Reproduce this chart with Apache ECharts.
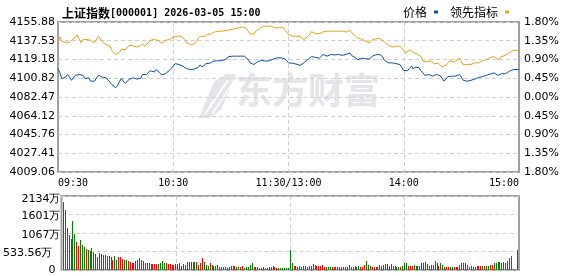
<!DOCTYPE html>
<html><head><meta charset="utf-8">
<script src="https://cdn.jsdelivr.net/npm/echarts@6/dist/echarts.min.js"></script>
<style>html,body{margin:0;padding:0;background:#fff}#c{width:578px;height:276px}</style>
</head><body><div id="c"></div>
<script>
// ---- data ----
const prevClose = 4082.47;
const titleCode = '[000001] 2026-03-05 15:00';
const titleName = '上证指数';
const priceTicks = ['4009.06','4027.41','4045.76','4064.12','4082.47','4100.82','4119.18','4137.53','4155.88'];
const pctTicks = ['1.80%','1.35%','0.90%','0.45%','0.00%','0.45%','0.90%','1.35%','1.80%'];
const volTicks = ['0','533.56万','1067万','1601万','2134万'];
const timeTicks = {0:'09:30', 60:'10:30', 120:'11:30/13:00', 180:'14:00', 240:'15:00'};
const seriesNames = ['价格','领先指标'];

// change vs previous close (%), one value per minute 09:30..11:30, 13:01..15:00
const priceChgPct = [
 0.68,0.58,0.44,0.40,0.48,0.54,0.48,0.40,0.44,0.52,0.54,0.54,0.54,0.52,0.44,0.40,0.46,0.38,0.38,0.38,
 0.42,0.52,0.54,0.48,0.50,0.46,0.42,0.36,0.30,0.28,0.22,0.27,0.37,0.45,0.38,0.33,0.37,0.42,0.44,0.46,
 0.43,0.43,0.42,0.45,0.54,0.54,0.54,0.58,0.63,0.62,0.60,0.66,0.63,0.58,0.53,0.54,0.56,0.60,0.64,0.68,
 0.74,0.80,0.78,0.78,0.78,0.74,0.71,0.68,0.66,0.66,0.66,0.67,0.67,0.71,0.77,0.72,0.69,0.80,0.81,0.81,
 0.84,0.86,0.88,0.87,0.87,0.87,0.88,0.90,0.93,0.97,0.98,0.98,0.98,0.98,0.98,0.98,0.99,0.98,0.98,0.90,
 0.82,0.78,0.78,0.81,0.85,0.86,0.88,0.88,0.86,0.82,0.87,0.90,0.91,0.94,0.94,0.94,0.94,0.91,0.92,0.89,
 0.82,
 0.81,0.81,0.80,0.79,0.78,0.76,0.77,0.82,0.86,0.90,0.94,0.97,0.99,0.95,0.95,0.93,0.96,1.02,0.99,0.98,
 1.01,1.02,1.02,1.01,1.02,1.02,1.02,1.00,1.02,1.02,1.04,1.06,0.99,0.97,0.94,0.89,0.88,0.93,0.96,0.92,
 0.90,0.91,0.94,0.99,1.02,1.02,1.02,1.01,0.96,0.88,0.84,0.82,0.82,0.82,0.81,0.80,0.80,0.78,0.75,0.64,
 0.60,0.63,0.69,0.74,0.67,0.72,0.68,0.70,0.63,0.58,0.52,0.50,0.54,0.56,0.50,0.48,0.54,0.50,0.51,0.48,
 0.38,0.42,0.49,0.50,0.50,0.50,0.50,0.52,0.54,0.48,0.40,0.37,0.38,0.40,0.40,0.41,0.43,0.45,0.47,0.47,
 0.49,0.52,0.52,0.53,0.55,0.58,0.58,0.56,0.52,0.54,0.56,0.56,0.56,0.58,0.62,0.64,0.66,0.66,0.66,0.66
];
const leadChgPct = [
 1.30,1.44,1.34,1.31,1.31,1.31,1.32,1.36,1.40,1.44,1.49,1.39,1.30,1.38,1.42,1.38,1.39,1.36,1.34,1.30,
 1.32,1.46,1.40,1.33,1.30,1.26,1.26,1.22,1.12,1.09,1.02,1.01,1.07,1.15,1.17,1.13,1.17,1.24,1.22,1.23,
 1.19,1.20,1.22,1.23,1.28,1.22,1.25,1.30,1.36,1.40,1.38,1.40,1.36,1.34,1.29,1.31,1.36,1.38,1.38,1.39,
 1.44,1.44,1.46,1.46,1.46,1.43,1.38,1.30,1.26,1.26,1.25,1.27,1.33,1.41,1.46,1.43,1.45,1.49,1.50,1.50,
 1.52,1.54,1.57,1.58,1.58,1.58,1.58,1.58,1.60,1.62,1.62,1.62,1.64,1.66,1.66,1.68,1.68,1.66,1.65,1.58,
 1.52,1.48,1.51,1.58,1.62,1.64,1.68,1.70,1.72,1.70,1.67,1.70,1.67,1.66,1.66,1.66,1.67,1.67,1.62,1.60,
 1.50,
 1.48,1.46,1.47,1.46,1.46,1.46,1.42,1.38,1.42,1.45,1.50,1.57,1.58,1.52,1.52,1.52,1.52,1.56,1.58,1.58,
 1.58,1.58,1.58,1.58,1.58,1.58,1.58,1.58,1.58,1.56,1.58,1.60,1.54,1.50,1.46,1.41,1.38,1.39,1.35,1.34,
 1.30,1.30,1.34,1.38,1.40,1.40,1.40,1.40,1.37,1.32,1.28,1.24,1.21,1.20,1.21,1.22,1.22,1.22,1.20,1.12,
 1.06,1.09,1.13,1.13,1.07,1.05,1.03,1.04,0.97,0.86,0.82,0.85,0.86,0.86,0.83,0.80,0.81,0.81,0.78,0.72,
 0.73,0.77,0.82,0.87,0.86,0.84,0.86,0.89,0.94,0.90,0.77,0.75,0.78,0.78,0.78,0.80,0.82,0.82,0.82,0.83,
 0.87,0.90,0.90,0.90,0.94,0.98,0.97,0.93,0.90,0.94,0.97,0.98,1.00,1.04,1.07,1.10,1.12,1.12,1.12,1.12
];
// volume per minute, unit 万
const volume = [
 null,
 1961,1731,1211,1010,894,1413,1038,798,692,865,721,663,606,577,558,635,510,462,385,481,
 462,433,433,413,404,385,288,404,288,365,365,308,298,279,250,221,212,192,269,298,
 346,288,250,192,192,192,173,173,173,173,173,192,250,202,192,173,173,135,154,173,
 173,192,125,173,144,221,221,221,221,221,231,144,202,346,221,144,125,192,154,125,
 125,144,96,96,96,96,58,96,125,125,125,77,77,77,125,58,77,77,144,202,
 77,77,77,58,48,77,58,58,77,96,125,77,58,58,58,58,58,58,58,577,
 202,125,125,96,125,96,125,125,96,125,125,173,154,125,125,125,154,96,96,96,
 96,77,96,96,96,96,96,96,96,96,154,96,96,125,96,125,96,96,154,269,
 154,125,96,96,96,96,154,125,154,173,173,125,173,125,125,96,96,96,125,202,
 202,125,125,125,154,125,125,125,202,202,221,173,125,154,154,260,202,125,202,154,
 96,96,96,96,96,96,96,96,154,202,202,202,144,96,125,96,96,125,125,125,
 125,125,125,125,144,144,202,202,240,221,202,240,192,269,337,413,19,0,0,577
];
// 1 = red (up), 0 = green (down)
const volUp = [
 0,
 1,0,0,1,1,0,0,1,1,0,0,0,1,0,0,1,0,1,0,1,
 1,0,0,1,1,0,1,0,0,1,1,1,0,0,1,1,1,1,1,1,
 0,1,1,0,0,1,1,1,1,1,0,0,0,0,1,1,1,1,1,1,
 1,0,0,1,1,0,0,0,0,0,1,0,1,1,0,0,0,1,0,1,
 1,1,0,1,1,1,1,1,1,1,1,0,0,1,1,0,0,0,0,0,
 1,1,0,1,1,1,1,0,0,1,1,1,1,0,0,0,0,0,0,0,
 0,1,1,0,0,1,0,0,1,1,1,1,0,1,1,1,1,1,0,0,
 0,1,1,0,0,0,0,0,0,0,1,0,0,0,0,0,1,1,1,0,
 0,1,1,0,1,0,1,0,0,0,0,0,0,1,1,0,0,1,0,0,
 0,1,1,1,0,0,0,0,0,0,0,1,1,1,0,0,1,1,0,0,
 1,1,1,0,0,1,1,1,1,0,0,0,1,0,1,0,0,1,1,1,
 0,1,0,0,1,1,0,0,0,1,0,0,1,1,1,1,1,0,0,0
];

// minute categories
const times = [];
function pad(n){return (n<10?'0':'')+n;}
for (let m = 9*60+30; m <= 11*60+30; m++) times.push(pad(Math.floor(m/60))+':'+pad(m%60));
for (let m = 13*60+1; m <= 15*60; m++) times.push(pad(Math.floor(m/60))+':'+pad(m%60));

// ---- chart ----
const RED = '#ff0000', GREEN = '#008000', BLUE = '#0b52a5', ORANGE = '#e3a21a';
const GRIDC = '#cfcfcf', FRAME = '#a0a0a0', WM = '#e4e4e9';
const numFont = 'DejaVu Sans';
const monoFont = 'DejaVu Sans Mono';
const cjkFont = 'Noto Sans CJK SC';
const tickIdx = v => Math.round((v + 1.8) / 0.45);
const tickColor = v => { const k = tickIdx(v); return k > 4 ? RED : (k < 4 ? GREEN : '#000'); };
const vSplit = i => i === 60 || i === 120 || i === 180;

const chart = echarts.init(document.getElementById('c'), null, {renderer: 'canvas'});
chart.setOption({
  animation: false,
  backgroundColor: '#fff',
  title: {
    left: 57, top: 2,
    text: '{a|' + titleName + '}{b|' + titleCode + '}',
    textStyle: {
      rich: {
        a: {fontFamily: cjkFont, fontSize: 12, color: '#000'},
        b: {fontFamily: monoFont, fontSize: 10, color: '#000', padding: [1,0,0,0]}
      }
    }
  },
  legend: {
    right: 64, top: 1, align: 'right', itemWidth: 4, itemHeight: 3, itemGap: 12,
    icon: 'rect',
    textStyle: {fontFamily: cjkFont, fontSize: 12, color: '#000', padding: [0, 2, 0, 0]},
    data: seriesNames
  },
  graphic: [
    {
      type: 'group', z: -1, silent: true,
      children: [
        {type: 'polygon', shape: {points: [[199,118],[214,82],[226,74],[236,74],[221,110],[209,118]]}, style: {fill: WM}},
        {type: 'line', shape: {x1: 205, y1: 114, x2: 228, y2: 80}, style: {stroke: '#fff', lineWidth: 2}},
        {type: 'line', shape: {x1: 212, y1: 114, x2: 232, y2: 84}, style: {stroke: '#fff', lineWidth: 1.5}},
        {type: 'text', left: 236, top: 72,
          style: {text: '东方财富', fontFamily: cjkFont, fontWeight: 'bold', fontSize: 36, fill: WM}}
      ]
    }
  ],
  grid: [
    {left: 58, top: 22, width: 461, height: 150, show: true, borderColor: FRAME, borderWidth: 2, backgroundColor: 'transparent'},
    {left: 58, top: 196, width: 461, height: 74, show: true, borderColor: FRAME, borderWidth: 2, backgroundColor: 'transparent'}
  ],
  xAxis: [
    {
      type: 'category', gridIndex: 0, data: times, boundaryGap: false,
      axisLine: {show: false}, axisTick: {show: false},
      axisLabel: {
        show: true, interval: (i) => timeTicks[i] !== undefined, margin: 6,
        formatter: (v, i) => timeTicks[i] || '',
        fontFamily: monoFont, fontSize: 10, color: '#000',
        alignMinLabel: 'left', alignMaxLabel: 'right'
      },
      splitLine: {show: true, interval: (i) => vSplit(i), lineStyle: {color: GRIDC, type: [4, 3], width: 1}}
    },
    {
      type: 'category', gridIndex: 1, data: times, boundaryGap: false,
      axisLine: {show: false}, axisTick: {show: false}, axisLabel: {show: false},
      splitLine: {show: true, interval: (i) => vSplit(i), lineStyle: {color: GRIDC, type: [4, 3], width: 1}}
    }
  ],
  yAxis: [
    {
      type: 'value', gridIndex: 0, min: -1.8, max: 1.8, interval: 0.45, position: 'left',
      axisLine: {show: false}, axisTick: {show: false},
      axisLabel: {margin: 3, fontFamily: numFont, fontSize: 11, formatter: v => priceTicks[tickIdx(v)], color: tickColor},
      splitLine: {show: true, lineStyle: {color: GRIDC, type: [4, 3], width: 1}}
    },
    {
      type: 'value', gridIndex: 0, min: -1.8, max: 1.8, interval: 0.45, position: 'right',
      axisLine: {show: false}, axisTick: {show: false},
      axisLabel: {margin: 5, fontFamily: numFont, fontSize: 11, formatter: v => pctTicks[tickIdx(v)], color: tickColor},
      splitLine: {show: false}
    },
    {
      type: 'value', gridIndex: 1, min: 0, max: 2134.24, interval: 533.56, position: 'left',
      axisLine: {show: false}, axisTick: {show: false},
      axisLabel: {
        margin: 1, fontFamily: numFont, fontSize: 11, color: '#000',
        formatter: v => { const k = Math.round(v / 533.56); const t = volTicks[k];
          const st = ['z', 'a', 'b', 'b', 'c'][k]; return '{' + st + '|' + t + '}'; },
        rich: {
          z: {padding: [0, 5, 0, 0], fontFamily: numFont, fontSize: 11, color: '#000'},
          a: {padding: [4, 8, 0, 0], fontFamily: numFont, fontSize: 11, color: '#000'},
          b: {padding: [4, 0, 0, 0], fontFamily: numFont, fontSize: 11, color: '#000'},
          c: {padding: [6, 0, 0, 0], fontFamily: numFont, fontSize: 11, color: '#000'}
        }
      },
      splitLine: {show: true, lineStyle: {color: GRIDC, type: [4, 3], width: 1}}
    }
  ],
  series: [
    {
      name: seriesNames[0], type: 'line', xAxisIndex: 0, yAxisIndex: 0, showSymbol: false, symbol: 'none',
      data: priceChgPct, lineStyle: {color: BLUE, width: 1}, itemStyle: {color: BLUE}, z: 3
    },
    {
      name: seriesNames[1], type: 'line', xAxisIndex: 0, yAxisIndex: 0, showSymbol: false, symbol: 'none',
      data: leadChgPct, lineStyle: {color: ORANGE, width: 1}, itemStyle: {color: ORANGE}, z: 2
    },
    {
      name: '成交量', type: 'custom', xAxisIndex: 1, yAxisIndex: 2,
      encode: {x: 0, y: 1},
      data: volume.map((v, i) => [i, v == null ? 0 : v, volUp[i]]),
      renderItem: (params, api) => {
        const v = api.value(1);
        if (!v) return null;
        const top = api.coord([api.value(0), v]);
        const base = api.coord([api.value(0), 0]);
        const x = Math.min(Math.floor(top[0]), 517);
        const y0 = Math.round(top[1]), y1 = Math.round(base[1]);
        return {type: 'rect', shape: {x: x, y: y0, width: 1, height: y1 - y0},
          style: {fill: api.value(2) ? RED : GREEN}};
      }
    }
  ]
});
</script></body></html>
